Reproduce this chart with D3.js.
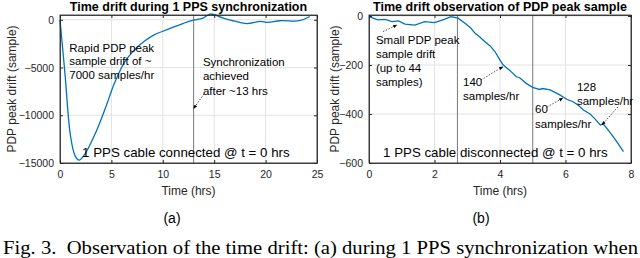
<!DOCTYPE html>
<html>
<head>
<meta charset="utf-8">
<script src="https://cdnjs.cloudflare.com/ajax/libs/d3/7.8.5/d3.min.js"></script>
<style>
  body { margin: 0; background: #fff; }
  svg { display: block; font-family: "Liberation Sans", Arial, sans-serif; }
</style>
</head>
<body>
<script>
// panel (a): drift while 1 PPS is connected
var timeA = [0, 0.25, 0.5, 1.0, 1.45, 1.85, 2.4, 3.4, 4.4, 5.35, 6.3, 7.3, 8.2, 9.2, 10, 11.2, 11.7, 12.8, 13.9, 14.6, 15.9, 17, 18.2, 19.5, 20.2, 21.4, 23.3, 24.3];
var driftA = [0, -2900, -5850, -12000, -14200, -14700, -14100, -12000, -9300, -6500, -4400, -3100, -2250, -1550, -1200, -700, -500, -100, 170, 600, 170, -150, -400, -170, -280, -100, -100, 340];
// panel (b): drift after 1 PPS is disconnected
var timeB = [0, 0.27, 0.5, 0.7, 0.9, 1.1, 1.4, 1.7, 2.0, 2.3, 2.5, 2.72, 2.93, 3.1, 3.24, 3.4, 3.54, 3.7, 3.85, 4.0, 4.1, 4.3, 4.5, 4.6, 4.8, 5.0, 5.2, 5.3, 5.53, 5.8, 6.04, 6.23, 6.4, 6.55, 6.75, 6.9, 7.06, 7.15, 7.3, 7.46, 7.6, 7.77];
var driftB = [-3, -16, -14, -23, -20, -33, -37, -23, -27, -14, -3, -9, -30, -48, -71, -88, -105, -122, -146, -180, -200, -222, -248, -252, -275, -291, -300, -296, -302, -320, -340, -350, -365, -384, -400, -420, -445, -440, -465, -493, -520, -554];

var xTicksA = [0, 5, 10, 15, 20, 25];
var yTicksA = [0, -5000, -10000, -15000];
var xTicksB = [0, 2, 4, 6, 8];
var yTicksB = [0, -200, -400, -600];
var markersA = [13];
var markersB = [2.7, 5];

var W = 640, H = 258;
var svg = d3.select("body").append("svg").attr("width", W).attr("height", H);

var defs = svg.append("defs");
defs.append("marker")
    .attr("id", "head")
    .attr("viewBox", "0 0 10 10")
    .attr("refX", 9).attr("refY", 5)
    .attr("markerWidth", 6).attr("markerHeight", 6)
    .attr("orient", "auto")
    .append("path").attr("d", "M0,1 L10,5 L0,9 Z").attr("fill", "#000");

function drawPanel(cfg) {
    var x = d3.scaleLinear().domain(cfg.xDomain).range([cfg.left, cfg.right]);
    var y = d3.scaleLinear().domain(cfg.yDomain).range([cfg.bottom, cfg.top]);
    var g = svg.append("g");

    // grid
    g.selectAll(".gx").data(cfg.xTicks).enter().append("line")
        .attr("x1", d => x(d)).attr("x2", d => x(d))
        .attr("y1", cfg.top).attr("y2", cfg.bottom)
        .attr("stroke", "#e3e3e3").attr("stroke-width", 1);
    g.selectAll(".gy").data(cfg.yTicks).enter().append("line")
        .attr("x1", cfg.left).attr("x2", cfg.right)
        .attr("y1", d => y(d)).attr("y2", d => y(d))
        .attr("stroke", "#e3e3e3").attr("stroke-width", 1);

    // marker lines
    g.selectAll(".mk").data(cfg.markers).enter().append("line")
        .attr("x1", d => x(d)).attr("x2", d => x(d))
        .attr("y1", cfg.top).attr("y2", cfg.bottom)
        .attr("stroke", "#7a7a7a").attr("stroke-width", 1);

    // curve
    var line = d3.line().x(d => x(d[0])).y(d => y(d[1])).curve(cfg.curve);
    g.append("path")
        .datum(d3.zip(cfg.xs, cfg.ys))
        .attr("d", line)
        .attr("fill", "none")
        .attr("stroke", "#0072BD")
        .attr("stroke-width", 1.3);

    // box
    g.append("rect")
        .attr("x", cfg.left).attr("y", cfg.top)
        .attr("width", cfg.right - cfg.left).attr("height", cfg.bottom - cfg.top)
        .attr("fill", "none").attr("stroke", "#262626").attr("stroke-width", 0.8);

    // axes (ticks inward)
    var xa = g.append("g").attr("transform", "translate(0," + cfg.bottom + ")")
        .call(d3.axisBottom(x).tickValues(cfg.xTicks).tickSizeInner(-3).tickSizeOuter(0).tickPadding(8));
    var ya = g.append("g").attr("transform", "translate(" + cfg.left + ",0)")
        .call(d3.axisLeft(y).tickValues(cfg.yTicks).tickSizeInner(-3).tickSizeOuter(0).tickPadding(6).tickFormat(d3.format("d")));
    g.append("g").attr("transform", "translate(" + cfg.right + ",0)")
        .call(d3.axisRight(y).tickValues(cfg.yTicks).tickSizeInner(-3).tickSizeOuter(0).tickFormat(""));
    g.append("g").attr("transform", "translate(0," + cfg.top + ")")
        .call(d3.axisTop(x).tickValues(cfg.xTicks).tickSizeInner(-3).tickSizeOuter(0).tickFormat(""));
    g.selectAll(".domain").attr("stroke", "#262626").attr("stroke-width", 0.8);
    g.selectAll(".tick line").attr("stroke", "#262626");
    [xa, ya].forEach(a => a.selectAll("text")
        .attr("fill", "#262626").style("font-size", "10.5px")
        .style("font-family", "Liberation Sans, Arial, sans-serif"));
    ya.selectAll("text").attr("dy", "0.35em");

    var cx = (cfg.left + cfg.right) / 2;
    g.append("text").attr("x", cx).attr("y", 11)
        .attr("text-anchor", "middle").style("font-weight", "bold").style("font-size", "12.5px")
        .attr("fill", "#000").text(cfg.title);
    g.append("text").attr("x", cx).attr("y", 195)
        .attr("text-anchor", "middle").style("font-size", "12px").attr("fill", "#262626")
        .text("Time (hrs)");
    g.append("text")
        .attr("transform", "translate(" + cfg.ylabelX + "," + ((cfg.top + cfg.bottom) / 2) + ") rotate(-90)")
        .attr("dy", "0.35em")
        .attr("text-anchor", "middle").style("font-size", "12px").attr("fill", "#262626")
        .text("PDP peak drift (sample)");
    g.append("text").attr("x", cfg.subX).attr("y", 223)
        .attr("text-anchor", "middle").style("font-size", "14px").attr("fill", "#000")
        .text(cfg.sub);

    // notes
    cfg.notes.forEach(function (n) {
        var t = g.append("text").attr("x", x(n.at[0])).attr("y", y(n.at[1]))
            .style("font-size", n.size + "px").attr("fill", "#000");
        n.lines.forEach(function (s, i) {
            t.append("tspan").attr("x", x(n.at[0])).attr("dy", i === 0 ? 0 : n.lh).text(s);
        });
    });
    cfg.arrows.forEach(function (a) {
        g.append("line")
            .attr("x1", x(a[0][0])).attr("y1", y(a[0][1]))
            .attr("x2", x(a[1][0])).attr("y2", y(a[1][1]))
            .attr("stroke", "#000").attr("stroke-width", 0.7)
            .attr("stroke-dasharray", "1.5,1.5")
            .attr("marker-end", "url(#head)");
    });
}

drawPanel({
    xDomain: [0, 25], yDomain: [-15000, 500],
    left: 60, right: 317, top: 15, bottom: 163,
    xTicks: xTicksA, yTicks: yTicksA, markers: markersA,
    xs: timeA, ys: driftA, curve: d3.curveCatmullRom,
    title: "Time drift during 1 PPS synchronization",
    ylabelX: 12, sub: "(a)", subX: 172,
    notes: [
        { at: [0.9, -3370], lines: ["Rapid PDP peak", "sample drift of ~", "7000 samples/hr"], lh: 13.5, size: 11.5 },
        { at: [13.9, -4840], lines: ["Synchronization", "achieved", "after ~13 hrs"], lh: 14.5, size: 11.5 },
        { at: [2.15, -14370], lines: ["1 PPS cable connected @ t = 0 hrs"], lh: 0, size: 13.3 }
    ],
    arrows: [[[14.0, -7770], [13.0, -9300]]]
});

drawPanel({
    xDomain: [0, 8], yDomain: [-600, 4],
    left: 369, right: 631, top: 15, bottom: 163,
    xTicks: xTicksB, yTicks: yTicksB, markers: markersB,
    xs: timeB, ys: driftB, curve: d3.curveLinear,
    title: "Time drift observation of PDP peak sample",
    ylabelX: 335, sub: "(b)", subX: 481,
    notes: [
        { at: [0.21, -114], lines: ["Small PDP peak", "sample drift", "(up to 44", "samples)"], lh: 14, size: 11.5 },
        { at: [2.87, -286], lines: ["140", "samples/hr"], lh: 14, size: 11.5 },
        { at: [5.07, -396], lines: ["60", "samples/hr"], lh: 15, size: 11.5 },
        { at: [6.35, -306], lines: ["128", "samples/hr"], lh: 14, size: 11.5 },
        { at: [0.43, -575], lines: ["1 PPS cable disconnected @ t = 0 hrs"], lh: 0, size: 13.3 }
    ],
    arrows: [
        [[0.43, -64], [0.85, -37]],
        [[3.42, -261], [4.09, -207]],
        [[5.44, -371], [5.92, -335]],
        [[7.6, -371], [7.11, -445]]
    ]
});

svg.append("text").attr("x", 3).attr("y", 254)
    .style("font-family", "Liberation Serif, Times New Roman, serif").style("font-size", "19px")
    .attr("textLength", 635).attr("lengthAdjust", "spacingAndGlyphs")
    .attr("xml:space", "preserve")
    .text("Fig. 3.  Observation of the time drift: (a) during 1 PPS synchronization when");
</script>
</body>
</html>
